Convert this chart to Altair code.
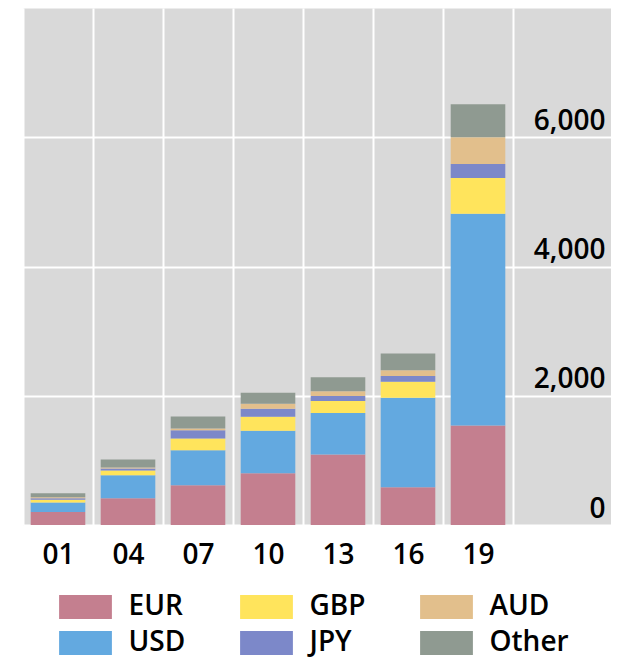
import altair as alt
import pandas as pd

years = ["01", "04", "07", "10", "13", "16", "19"]
currencies = ["EUR", "USD", "GBP", "JPY", "AUD", "Other"]
eur = [200, 415, 615, 800, 1090, 585, 1540]
usd = [150, 355, 540, 660, 645, 1385, 3275]
gbp = [40, 75, 185, 215, 185, 245, 555]
jpy = [25, 30, 125, 125, 75, 90, 215]
aud = [15, 15, 30, 75, 75, 90, 415]
other = [60, 125, 185, 170, 215, 260, 510]

legend_order = ["EUR", "GBP", "AUD", "USD", "JPY", "Other"]
legend_colors = ["#c47f8f", "#ffe45c", "#e2bf8c", "#63a9e0", "#7c88c9", "#8f9a91"]

series = [eur, usd, gbp, jpy, aud, other]
rows = []
for i, (cur, vals) in enumerate(zip(currencies, series)):
    for y, v in zip(years, vals):
        rows.append({"year": y, "currency": cur, "value": v, "ord": i})
df = pd.DataFrame(rows)

FONT = "Open Sans"
FW = 600

chart = alt.Chart(df).mark_bar(width=alt.RelativeBandSize(0.78)).encode(
    x=alt.X(
        "year:N",
        sort=years,
        scale=alt.Scale(paddingInner=0, paddingOuter=0.7, align=0),
        axis=alt.Axis(
            title=None, labelAngle=0, tickBand="extent", grid=True,
            gridColor="white", gridWidth=2, ticks=False, domain=False,
            labelFontSize=28, labelFontWeight=FW, labelPadding=16,
            labelColor="black", labelFont=FONT,
        ),
    ),
    y=alt.Y(
        "value:Q",
        stack="zero",
        scale=alt.Scale(domain=[0, 8000], nice=False),
        axis=alt.Axis(
            title=None, orient="right", values=[0, 2000, 4000, 6000], format=",d",
            grid=True, gridColor="white", gridWidth=2, ticks=False, tickSize=0,
            domain=False, labelAlign="right", labelBaseline="alphabetic",
            labelOffset=-8, labelPadding=-6, labelFontSize=28, labelFontWeight=FW,
            labelColor="black", labelFont=FONT,
        ),
    ),
    color=alt.Color(
        "currency:N",
        scale=alt.Scale(domain=legend_order, range=legend_colors),
        legend=alt.Legend(
            title=None, orient="none", legendX=48.5, legendY=585, columns=3,
            direction="horizontal",
            symbolType="M-2.2,-1H2.2V1H-2.2Z", symbolSize=576,
            symbolStrokeWidth=0, symbolOpacity=1,
            labelFontSize=28, labelFontWeight=FW, labelFont=FONT,
            labelColor="black", labelOffset=29, columnPadding=54,
            rowPadding=8, labelLimit=300,
        ),
    ),
    order=alt.Order("ord:Q"),
).properties(
    width=588, height=517,
    padding={"left": 15, "top": 0, "right": 0, "bottom": 4},
).configure_view(fill="#d9d9d9", stroke="transparent")

chart.save("out.html", embed_options={"renderer": "svg", "actions": False})
